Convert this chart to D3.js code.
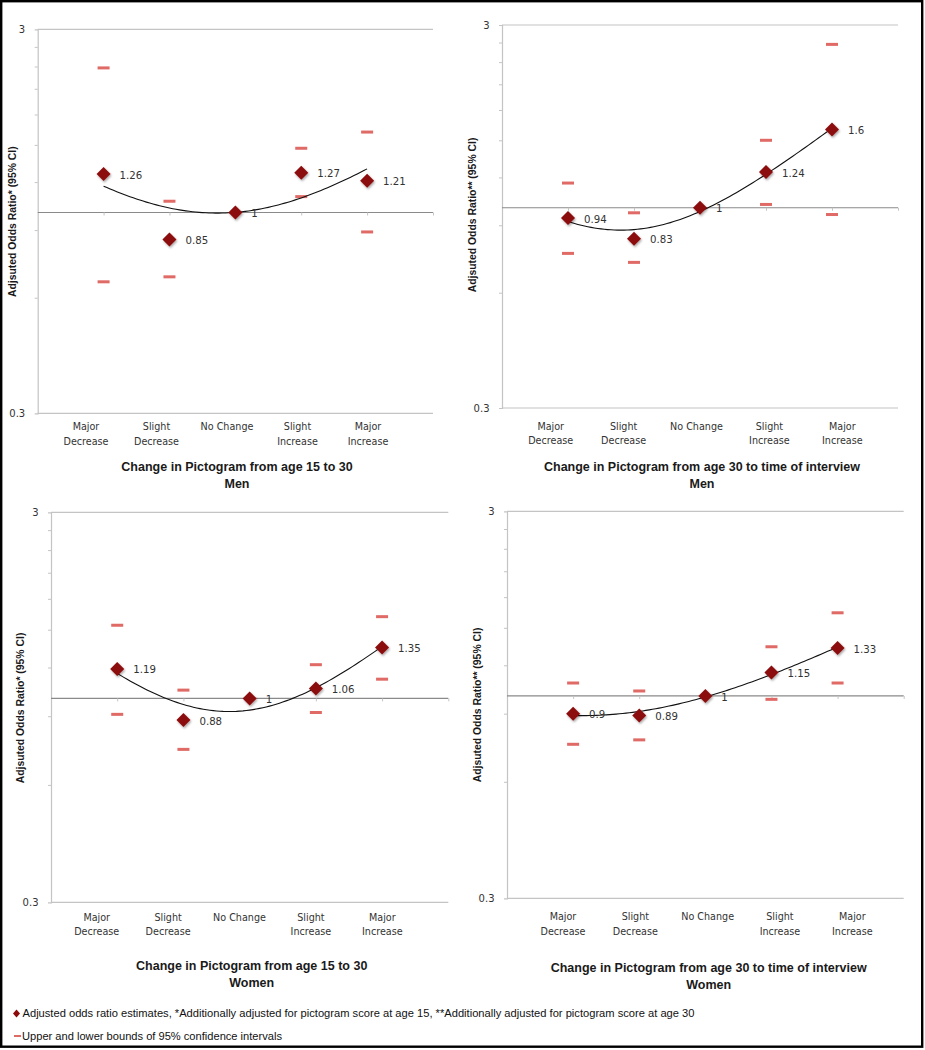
<!DOCTYPE html>
<html>
<head>
<meta charset="utf-8">
<script src="https://cdn.jsdelivr.net/npm/d3@7"></script>
<style>
  html, body { margin: 0; padding: 0; background: #fff; }
  svg { display: block; }
</style>
</head>
<body>
<svg id="chart" width="925" height="1050"></svg>
<script>
// ---------------- DATA ----------------
const categories = ["Major Decrease", "Slight Decrease", "No Change", "Slight Increase", "Major Increase"];

const estimatesMen1530 = [1.26, 0.85, 1, 1.27, 1.21];
const lowerMen1530     = [0.66, 0.68, null, 1.10, 0.89];
const upperMen1530     = [2.38, 1.07, null, 1.47, 1.62];

const estimatesMen30   = [0.94, 0.83, 1, 1.24, 1.6];
const lowerMen30       = [0.76, 0.72, null, 1.02, 0.96];
const upperMen30       = [1.16, 0.97, null, 1.50, 2.67];

const estimatesWomen1530 = [1.19, 0.88, 1, 1.06, 1.35];
const lowerWomen1530     = [0.91, 0.74, null, 0.92, 1.12];
const upperWomen1530     = [1.54, 1.05, null, 1.22, 1.62];

const estimatesWomen30 = [0.9, 0.89, 1, 1.15, 1.33];
const lowerWomen30     = [0.75, 0.77, null, 0.98, 1.08];
const upperWomen30     = [1.08, 1.03, null, 1.34, 1.64];

const yDomain = [0.3, 3];
const yTickLabels = ["0.3", "3"];
const yMinorTicks = [0.6, 0.9, 1.2, 1.5, 1.8, 2.1, 2.4, 2.7];

const panelTitles = [
  "Change in Pictogram from age 15 to 30",
  "Change in Pictogram from age 30 to time of interview",
  "Change in Pictogram from age 15 to 30",
  "Change in Pictogram from age 30 to time of interview"
];
const panelGroups = ["Men", "Men", "Women", "Women"];
const yTitles = [
  "Adjsuted Odds Ratio* (95% CI)",
  "Adjsuted Odds Ratio** (95% CI)",
  "Adjsuted Odds Ratio* (95% CI)",
  "Adjsuted Odds Ratio** (95% CI)"
];
const legendTexts = [
  "Adjusted odds ratio estimates, *Additionally adjusted for pictogram score at age 15, **Additionally adjusted for pictogram score at age 30",
  "Upper and lower bounds of 95% confidence intervals"
];

// ---------------- LAYOUT (positions/styles only) ----------------
const layout = [
  { left: 37.7, right: 433,   top: 29.3,  bottom: 413.3, labL: 86,    labR: 368,   labDy: 13.7, titleX: 237,   titleDy: 53.4, yTitleX: 12,   yTitleY: 221.7 },
  { left: 502,  right: 898,   top: 25,    bottom: 408,   labL: 550.7, labR: 842.3, labDy: 18.5, titleX: 702,   titleDy: 58.7, yTitleX: 472,  yTitleY: 215 },
  { left: 51,   right: 448.3, top: 512.3, bottom: 902.3, labL: 96.7,  labR: 382.3, labDy: 15.4, titleX: 251.7, titleDy: 63.7, yTitleX: 20.7, yTitleY: 708 },
  { left: 507,  right: 903.7, top: 511.3, bottom: 898.3, labL: 563,   labR: 852.3, labDy: 18.7, titleX: 708.7, titleDy: 69.4, yTitleX: 477,  yTitleY: 705 }
];
const panelData = [
  { est: estimatesMen1530,   lo: lowerMen1530,   hi: upperMen1530 },
  { est: estimatesMen30,     lo: lowerMen30,     hi: upperMen30 },
  { est: estimatesWomen1530, lo: lowerWomen1530, hi: upperWomen1530 },
  { est: estimatesWomen30,   lo: lowerWomen30,   hi: upperWomen30 }
];

const C = {
  marker: "#8c0a0a",
  ci: "#e06a66",
  axisGray: "#c4c4c4",
  oneLine: "#8a8a8a",
  text: "#333333",
  bold: "#1a1a1a"
};
const LABEL_FONT = "'DejaVu Sans', sans-serif";
const BOLD_FONT = "'Liberation Sans', Arial, sans-serif";

const svg = d3.select("#chart");
const defs = svg.append("defs");
const f = defs.append("filter").attr("id", "shadow").attr("x", "-50%").attr("y", "-50%").attr("width", "200%").attr("height", "200%");
f.append("feDropShadow").attr("dx", 1).attr("dy", 1.5).attr("stdDeviation", 1).attr("flood-color", "#000").attr("flood-opacity", 0.35);

// quadratic least-squares fit (Excel polynomial trendline, order 2)
function quadFit(xs, ys) {
  let n = xs.length, sx = 0, sx2 = 0, sx3 = 0, sx4 = 0, sy = 0, sxy = 0, sx2y = 0;
  for (let i = 0; i < n; i++) {
    const x = xs[i], y = ys[i];
    sx += x; sx2 += x * x; sx3 += x ** 3; sx4 += x ** 4;
    sy += y; sxy += x * y; sx2y += x * x * y;
  }
  const A = [[n, sx, sx2, sy], [sx, sx2, sx3, sxy], [sx2, sx3, sx4, sx2y]];
  for (let i = 0; i < 3; i++) {
    let p = i;
    for (let r = i + 1; r < 3; r++) if (Math.abs(A[r][i]) > Math.abs(A[p][i])) p = r;
    [A[i], A[p]] = [A[p], A[i]];
    for (let r = 0; r < 3; r++) {
      if (r === i) continue;
      const k = A[r][i] / A[i][i];
      for (let c = i; c < 4; c++) A[r][c] -= k * A[i][c];
    }
  }
  const c0 = A[0][3] / A[0][0], c1 = A[1][3] / A[1][1], c2 = A[2][3] / A[2][2];
  return x => c0 + c1 * x + c2 * x * x;
}

const catIndex = categories.map((c, i) => i + 1);
const catLines = categories.map(c => c === "No Change" ? [c] : c.split(" "));

layout.forEach((L, p) => {
  const D = panelData[p];
  const g = svg.append("g");
  const x = d3.scaleLinear().domain([0, 6]).range([L.left, L.right]);
  const y = d3.scaleLog().domain(yDomain).range([L.bottom, L.top]);
  const xLab = d3.scalePoint().domain(categories).range([L.labL, L.labR]);

  // top gridline & bottom line
  g.selectAll("line.h").data(yDomain).enter().append("line")
    .attr("x1", L.left).attr("x2", L.right)
    .attr("y1", d => y(d)).attr("y2", d => y(d))
    .attr("stroke", C.axisGray).attr("stroke-width", 1.2);

  // y axis
  const yAxis = d3.axisLeft(y).tickValues(yMinorTicks).tickSize(3).tickFormat("");
  const ya = g.append("g").attr("transform", `translate(${L.left},0)`).call(yAxis);
  ya.select(".domain").attr("stroke", C.axisGray).attr("stroke-width", 1.2);
  ya.selectAll(".tick line").attr("stroke", C.axisGray).attr("stroke-width", 1);

  // y tick labels
  g.selectAll("text.yl").data(yDomain).enter().append("text")
    .attr("x", L.left - 12.5).attr("y", d => y(d)).attr("dy", "0.35em")
    .attr("text-anchor", "end")
    .attr("font-family", LABEL_FONT).attr("font-size", 10).attr("fill", C.text)
    .text((d, i) => yTickLabels[i]);

  // horizontal axis at OR = 1
  const xAxis = d3.axisBottom(x).tickValues(catIndex.concat([6])).tickSize(3).tickFormat("");
  const xa = g.append("g").attr("transform", `translate(0,${y(1)})`).call(xAxis);
  xa.select(".domain").attr("stroke", C.oneLine).attr("stroke-width", 1.2).attr("d", `M${L.left},0H${L.right}`);
  xa.selectAll(".tick line").attr("stroke", C.axisGray).attr("stroke-width", 1);

  // category labels
  const cl = g.selectAll("text.cat").data(categories).enter().append("text")
    .attr("text-anchor", "middle")
    .attr("font-family", LABEL_FONT).attr("font-size", 9.6).attr("fill", C.text)
    .attr("x", d => xLab(d))
    .attr("y", L.bottom + L.labDy);
  cl.each(function(d, i) {
    const t = d3.select(this);
    catLines[i].forEach((ln, j) => {
      t.append("tspan").attr("x", xLab(d)).attr("dy", j === 0 ? "0.35em" : "1.5em").text(ln);
    });
  });

  // panel title
  const tt = g.append("text").attr("text-anchor", "middle")
    .attr("font-family", BOLD_FONT).attr("font-weight", "bold").attr("font-size", 12.5).attr("fill", C.bold)
    .attr("x", L.titleX).attr("y", L.bottom + L.titleDy);
  tt.append("tspan").attr("x", L.titleX).attr("dy", "0.35em").text(panelTitles[p]);
  tt.append("tspan").attr("x", L.titleX).attr("dy", "1.35em").text(panelGroups[p]);

  // y title
  g.append("text").attr("text-anchor", "middle")
    .attr("transform", `translate(${L.yTitleX},${L.yTitleY}) rotate(-90)`)
    .attr("dy", "0.35em")
    .attr("font-family", BOLD_FONT).attr("font-weight", "bold").attr("font-size", 10.4).attr("fill", C.bold)
    .text(yTitles[p]);

  // CI dashes
  const ciData = [];
  D.est.forEach((e, i) => {
    if (D.lo[i] != null) ciData.push({ i: i + 1, v: D.lo[i] });
    if (D.hi[i] != null) ciData.push({ i: i + 1, v: D.hi[i] });
  });
  g.selectAll("rect.ci").data(ciData).enter().append("rect")
    .attr("x", d => x(d.i) - 6).attr("y", d => y(d.v) - 1.5)
    .attr("width", 12).attr("height", 3)
    .attr("fill", C.ci);

  // trendline
  const fit = quadFit(catIndex, D.est);
  const xsCurve = d3.range(1, 5.0001, 0.05);
  const line = d3.line().x(d => x(d)).y(d => y(fit(d))).curve(d3.curveLinear);
  g.append("path").datum(xsCurve).attr("d", line)
    .attr("fill", "none").attr("stroke", "#111").attr("stroke-width", 1.1);

  // markers
  g.selectAll("path.mk").data(D.est).enter().append("path")
    .attr("d", "M0,-7L7,0L0,7L-7,0Z")
    .attr("transform", (d, i) => `translate(${x(i + 1)},${y(d)})`)
    .attr("fill", C.marker)
    .attr("filter", "url(#shadow)");

  // data labels
  g.selectAll("text.dl").data(D.est).enter().append("text")
    .attr("x", (d, i) => x(i + 1) + 16).attr("y", d => y(d) + 1).attr("dy", "0.35em")
    .attr("font-family", LABEL_FONT).attr("font-size", 10.2).attr("fill", C.text)
    .text(d => String(d));
});

// ---------------- LEGEND ----------------
const lg = svg.append("g");
lg.append("path").attr("d", "M0,-4L3.5,0L0,4L-3.5,0Z")
  .attr("transform", "translate(16.5,1013.5)").attr("fill", C.marker);
lg.append("text").attr("x", 22.5).attr("y", 1013.5).attr("dy", "0.35em")
  .attr("font-family", BOLD_FONT).attr("font-size", 10.6).attr("fill", "#111")
  .attr("textLength", 672).attr("lengthAdjust", "spacingAndGlyphs")
  .text(legendTexts[0]);
lg.append("rect").attr("x", 14).attr("y", 1035).attr("width", 7).attr("height", 2).attr("fill", C.ci);
lg.append("text").attr("x", 22).attr("y", 1036.5).attr("dy", "0.35em")
  .attr("font-family", BOLD_FONT).attr("font-size", 10.6).attr("fill", "#111")
  .attr("textLength", 260).attr("lengthAdjust", "spacingAndGlyphs")
  .text(legendTexts[1]);

// outer frame
svg.append("rect").attr("x", 1.2).attr("y", 1.2).attr("width", 921).attr("height", 1045.5)
  .attr("fill", "none").attr("stroke", "#000").attr("stroke-width", 2.4);
</script>
</body>
</html>
